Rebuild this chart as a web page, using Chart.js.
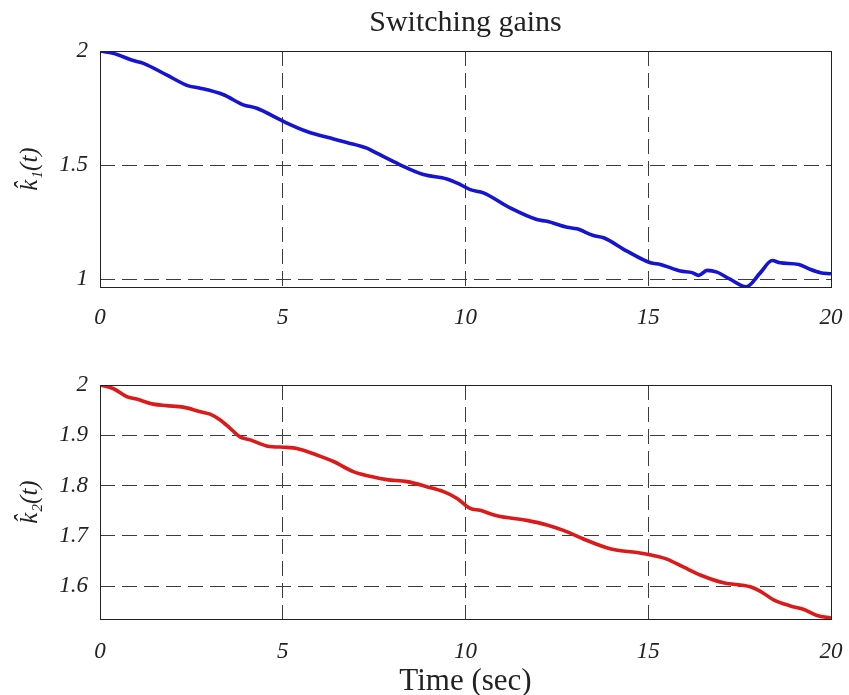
<!DOCTYPE html>
<html>
<head>
<meta charset="utf-8">
<script src="https://cdn.jsdelivr.net/npm/chart.js@4"></script>
<style>
  html, body { margin: 0; padding: 0; background: #fff; overflow: hidden; }
  #wrap { position: relative; width: 849px; height: 695px; }
  canvas { position: absolute; left: 0; }
  #top { top: 0; }
  #bottom { top: 335px; }
</style>
</head>
<body>
<div id="wrap">
  <canvas id="top" width="849" height="335"></canvas>
  <canvas id="bottom" width="849" height="360"></canvas>
</div>
<script>
// k1 (switching gain 1)
const t1 = [0, 0.36, 0.91, 1.19, 1.82, 2.42, 2.74, 3.38, 3.92, 4.29, 5.02, 5.66, 6.39, 6.75, 7.30, 7.57, 8.21, 8.85, 9.49, 9.86,
            10.13, 10.49, 11.22, 11.95, 12.23, 12.78, 13.05, 13.50, 13.78, 14.42, 15.06, 15.33, 15.88, 16.20, 16.38, 16.61,
            16.88, 17.25, 17.68, 18.07, 18.39, 18.61, 19.12, 19.44, 19.71, 20];
const k1 = [2.0, 1.99, 1.958, 1.946, 1.895, 1.847, 1.837, 1.808, 1.764, 1.749, 1.691, 1.647, 1.614, 1.599, 1.574, 1.552, 1.501, 1.458, 1.439, 1.414,
            1.392, 1.378, 1.312, 1.261, 1.253, 1.227, 1.220, 1.191, 1.181, 1.122, 1.071, 1.064, 1.035, 1.028, 1.016, 1.038,
            1.030, 0.998, 0.966, 1.028, 1.081, 1.071, 1.064, 1.042, 1.028, 1.023];

// k2 (switching gain 2)
const t2 = [0, 0.36, 0.73, 1.0, 1.46, 1.82, 2.28, 2.74, 3.01, 3.28, 3.56, 3.83, 4.11, 4.56, 5.11, 5.38, 5.93, 6.39, 6.93, 7.48,
            7.85, 8.40, 8.94, 9.40, 9.76, 10.13, 10.40, 10.86, 11.68, 12.23, 12.68, 13.23, 13.50, 14.05, 14.69, 15.14, 15.51,
            15.97, 16.51, 17.06, 17.79, 18.07, 18.43, 18.89, 19.26, 19.62, 20];
const k2 = [2.0, 1.993, 1.977, 1.972, 1.962, 1.959, 1.956, 1.947, 1.942, 1.931, 1.914, 1.897, 1.891, 1.879, 1.876, 1.874, 1.861, 1.848, 1.828, 1.817,
            1.812, 1.808, 1.798, 1.788, 1.775, 1.755, 1.751, 1.740, 1.731, 1.722, 1.711, 1.694, 1.686, 1.673, 1.667, 1.661, 1.654,
            1.638, 1.620, 1.607, 1.599, 1.590, 1.573, 1.561, 1.554, 1.542, 1.537];

const xTicks = [0, 5, 10, 15, 20];
const yTicks1 = [1, 1.5, 2];
const yTicks2 = [1.6, 1.7, 1.8, 1.9, 2];

const SERIF = "'Liberation Serif', 'Times New Roman', 'DejaVu Serif', serif";
const tickFont = { family: SERIF, size: 23, style: 'italic' };
const gridStyle = { color: '#3c3c3c', lineWidth: 1, drawTicks: false };

// solid frame around the axes, like MATLAB's box on
const boxPlugin = {
    id: 'box',
    afterDraw(chart) {
        const { ctx, chartArea: a } = chart;
        ctx.save();
        ctx.strokeStyle = '#222';
        ctx.lineWidth = 1;
        ctx.strokeRect(Math.round(a.left) + 0.5, Math.round(a.top) + 0.5,
                       Math.round(a.right - a.left), Math.round(a.bottom - a.top));
        ctx.restore();
    }
};

const fixTicks = (vals) => (scale) => { scale.ticks = vals.map(v => ({ value: v })); };

const makeChart = (id, xs, ys, color, yMin, yTicks, yLabel, opts) => {
    const scales = {
        x: {
            type: 'linear', min: 0, max: 20,
            afterBuildTicks: fixTicks(xTicks),
            afterFit: (s) => { s.height = opts.xHeight; s.paddingLeft = 0; s.paddingRight = 0; },
            grid: Object.assign({}, gridStyle),
            border: { display: false, dash: [15, 7] },
            ticks: { font: tickFont, color: '#222', padding: opts.xPad, callback: v => String(v), maxRotation: 0 },
            title: opts.xTitle ? {
                display: true, text: opts.xTitle, color: '#222',
                font: { family: SERIF, size: 31, lineHeight: 1.0 }, padding: { top: 0, bottom: -2 }
            } : { display: false }
        },
        y: {
            type: 'linear', min: yMin, max: 2,
            afterBuildTicks: fixTicks(yTicks),
            afterFit: (s) => { s.width = 100; },
            grid: Object.assign({}, gridStyle),
            border: { display: false, dash: [15, 7] },
            ticks: { font: tickFont, color: '#222', padding: 12, callback: v => String(v) },
            title: {
                display: true, text: yLabel, color: '#222',
                font: { family: SERIF, size: 25, style: 'italic' }, padding: { top: 15, bottom: 0 }
            }
        }
    };
    if (opts.title) {
        scales.xTop = {
            type: 'linear', position: 'top', min: 0, max: 20,
            afterFit: (s) => { s.height = 51; s.paddingLeft = 0; s.paddingRight = 0; },
            grid: { display: false }, border: { display: false },
            ticks: { display: false },
            title: {
                display: true, text: opts.title, color: '#222',
                font: { family: SERIF, size: 30 }, padding: { top: 5, bottom: 0 }
            }
        };
    }
    return new Chart(document.getElementById(id), {
        type: 'line',
        data: {
            datasets: [{
                data: xs.map((x, i) => ({ x: x, y: ys[i] })),
                borderColor: color,
                borderWidth: 3.6,
                pointRadius: 0,
                cubicInterpolationMode: 'monotone',
                fill: false
            }]
        },
        options: {
            responsive: false,
            animation: false,
            devicePixelRatio: 1,
            layout: { padding: { top: opts.padTop, right: 18, left: 0, bottom: 0 } },
            plugins: { legend: { display: false }, tooltip: { enabled: false } },
            scales: scales
        },
        plugins: [boxPlugin]
    });
};

makeChart('top', t1, k1, '#1414d2', 0.965, yTicks1, 'k\u0302\u2081(t)',
          { title: 'Switching gains', padTop: 0, xHeight: 48, xPad: 17 });
makeChart('bottom', t2, k2, '#dc1a1a', 1.535, yTicks2, 'k\u0302\u2082(t)',
          { xTitle: 'Time (sec)', padTop: 50, xHeight: 76, xPad: 19 });
</script>
</body>
</html>
